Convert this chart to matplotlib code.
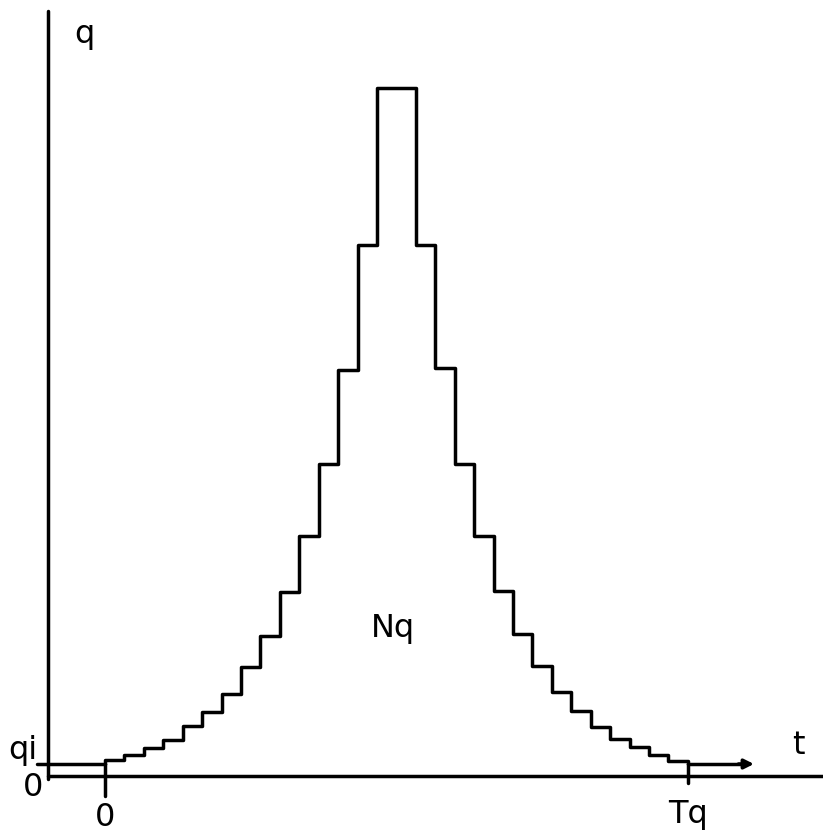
import numpy as np
import matplotlib
matplotlib.use('Agg')
import matplotlib.pyplot as plt

# step profile of q(t): one value per step, time measured in step widths
t_edges = np.r_[np.arange(0, 15), np.arange(16, 31)]
q_rise = [16, 21, 28, 36, 50, 64, 82, 109, 140, 184, 240, 312, 406, 531]
q_peak = [688]
q_fall = [531, 408, 312, 240, 185, 142, 110, 84, 65, 49, 37, 29, 21, 15]
q_values = q_rise + q_peak + q_fall
q_i = 12
T_q = 30

# page layout (step width in pixels, origin of t on the page)
step_px = 19.43
x0_px = 105
axis_t = (48 - x0_px) / step_px

fig = plt.figure(figsize=(8.23, 8.35), dpi=100)
ax = fig.add_axes([0, 0, 1, 1])
ax.axis('off')
ax.set_xlim(-x0_px / step_px, (823 - x0_px) / step_px)
ax.set_ylim(-59, 776)

lw = 2.5
line_kw = dict(color='black', lw=lw, solid_capstyle='round', solid_joinstyle='round')

# axes drawn by hand
ax.plot([axis_t, axis_t], [-3, 765], **line_kw)
ax.plot([axis_t, 40], [0, 0], **line_kw)

# q_i level before the start and after Tq, ending in an arrow towards t
ax.plot([(37 - x0_px) / step_px, 0], [q_i, q_i], **line_kw)
ax.plot([T_q, 33.0], [q_i, q_i], **line_kw)
ax.annotate('', xy=(33.4, q_i), xytext=(32.6, q_i),
            arrowprops=dict(arrowstyle='-|>', color='black', lw=lw,
                            mutation_scale=14, shrinkA=0, shrinkB=0))

# ticks at 0 and Tq
ax.plot([0, 0], [q_i, -20], **line_kw)
ax.plot([T_q, T_q], [q_i, -7], **line_kw)

# staircase
ax.stairs(q_values, t_edges, baseline=q_i, color='black', lw=lw,
          joinstyle='round', capstyle='round')

txt = dict(fontsize=23, color='black', ha='center', va='center', family='DejaVu Sans')
ax.text(axis_t + 1.85, 776 - 34, 'q', **txt)
ax.text(35.7, 776 - 746, 't', **txt)
ax.text(axis_t - 1.3, 776 - 750, 'qi', **txt)
ax.text(axis_t - 0.75, 776 - 788, '0', **txt)
ax.text(0, 776 - 818, '0', **txt)
ax.text(T_q, 776 - 815, 'Tq', **txt)
ax.text(14.8, 776 - 628, 'Nq', **txt)

fig.savefig('out.png', dpi=100, facecolor='white')
